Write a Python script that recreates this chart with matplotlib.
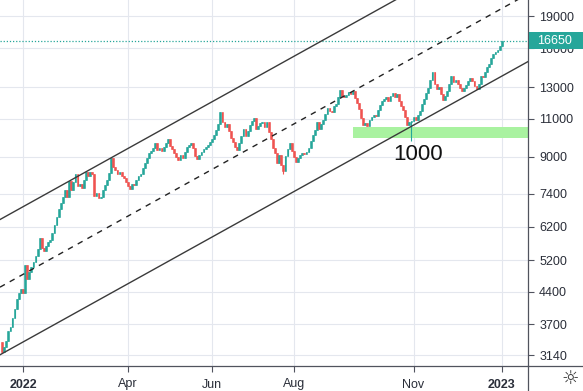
import numpy as np
import matplotlib
matplotlib.use("Agg")
import matplotlib.pyplot as plt
from matplotlib.lines import Line2D
from matplotlib.patches import Rectangle
from matplotlib.ticker import NullLocator, NullFormatter, FixedLocator, FixedFormatter

# ---------------- data ----------------
first_open = 3365
closes = [
    3190, 3280, 3380, 3570, 3645, 3820, 4010, 4230, 4365, 4460,
    4365, 5065, 4700, 4880, 5010, 5145, 5315, 5515, 5845, 5545,
    5455, 5605, 5725, 5785, 6005, 6265, 6535, 6820, 7040, 7270,
    7545, 7270, 7910, 7545, 7870, 8210, 7705, 7785, 7625, 7955,
    8300, 8125, 8300, 8210, 7305, 7425, 7230, 7270, 7545, 7745,
    7955, 8255, 8940, 8520, 8390, 8210, 8300, 8125, 8040, 7870,
    7705, 7585, 7785, 7745, 7955, 8125, 8210, 8480, 8705, 8940,
    9180, 9280, 9430, 9680, 9330, 9430, 9280, 9480, 9680, 9890,
    9530, 9380, 9180, 8990, 8845, 9085, 8940, 9230, 9480, 9580,
    9680, 9430, 9035, 8890, 9085, 9230, 9380, 9480, 9580, 9730,
    9890, 10100, 10370, 10705, 11415, 10825, 10540, 10705, 10320, 9940,
    9730, 9480, 9330, 9680, 10050, 10430, 10050, 10320, 10650, 10880,
    11055, 10430, 10595, 10765, 10825, 10540, 10825, 10265, 9890, 9430,
    9180, 8705, 9085, 8615, 8345, 9035, 9380, 9680, 9280, 8990,
    8750, 8940, 9085, 9180, 9135, 9230, 9430, 9785, 10100, 10370,
    10825, 10430, 10705, 10940, 11290, 11660, 11475, 11415, 11785, 11910,
    12360, 12830, 12425, 12360, 12490, 12690, 12560, 12760, 12295, 11975,
    11595, 11055, 10650, 10765, 10595, 10940, 11115, 11235, 11175, 11535,
    11845, 12100, 12230, 12360, 12100, 12425, 12625, 12360, 12560, 12100,
    11785, 11535, 11115, 10650, 10825, 10880, 11115, 10940, 11235, 11475,
    11910, 12230, 12625, 12965, 13525, 14115, 13240, 12895, 13035, 12560,
    12165, 12425, 12760, 13240, 13815, 13385, 13525, 13240, 12965, 12760,
    12965, 13170, 13455, 13670, 13455, 13105, 12895, 13240, 13815, 13745,
    14115, 14495, 14725, 15200, 15530, 15700, 15865, 16200, 16650,
]
wick_lows = {134: 8230, 195: 9800}

y_ticks = [3140, 3700, 4400, 5200, 6200, 7400, 9000, 11000, 13000, 16000, 19000]
x_tick_bars = [10, 60, 100, 139, 196, 238]
x_tick_labels = ["2022", "Apr", "Jun", "Aug", "Nov", "2023"]

channel_bars = [0, 238]
channel_mid = [4530, 19770]
channel_factor = 1.432

zone_start_bar = 167
zone_low, zone_high = 9950, 10550

note_bar, note_price, note_text = 198, 9130, "1000"
last_price = 16650

# ---------------- style ----------------
UP = "#26a69a"
DOWN = "#ef5350"
TXT = "#2a2e39"
AXC = "#50535e"
GRID = "#e4e7ee"
FONT = "Liberation Sans"

W, H = 583, 391
AX_R, AX_B = 528, 366

fig = plt.figure(figsize=(W / 100, H / 100), dpi=100)
fig.patch.set_facecolor("white")
ax = fig.add_axes([0, (H - AX_B) / H, AX_R / W, AX_B / H])
ax.set_yscale("log")
ax.set_xlim(-0.95, 250.5)
ax.set_ylim(2963, 20686)

n = len(closes)
xs = np.arange(n)
opens = np.array([first_open] + closes[:-1], dtype=float)
cl = np.array(closes, dtype=float)
lo_b = np.minimum(opens, cl)
hi_b = np.maximum(opens, cl)
colors = [UP if c >= o else DOWN for o, c in zip(opens, cl)]

wl = lo_b.copy()
for k, v in wick_lows.items():
    wl[k] = min(wl[k], v)

ax.vlines(xs, wl, hi_b, colors=colors, linewidth=0.8, zorder=3)
ax.bar(xs, hi_b - lo_b, bottom=lo_b, width=0.85, color=colors,
       edgecolor=colors, linewidth=0.4, zorder=3)

# regression channel
xl = np.array(ax.get_xlim())
slope = (np.log(channel_mid[1]) - np.log(channel_mid[0])) / (channel_bars[1] - channel_bars[0])
mid = np.exp(np.log(channel_mid[0]) + slope * (xl - channel_bars[0]))
ax.plot(xl, mid * channel_factor, color="#3a3a3a", lw=1.0, zorder=4)
ax.plot(xl, mid / channel_factor, color="#3a3a3a", lw=1.0, zorder=4)
ax.plot(xl, mid, color="#222222", lw=1.0, dashes=(4, 4), zorder=4)

# zone
ax.fill_between([zone_start_bar, xl[1]], zone_low, zone_high, color="#a9f2a0",
                lw=0, zorder=2)

ax.text(note_bar, note_price, note_text, ha="center", va="center",
        fontsize=16, family=FONT, color="#111111", zorder=5)

ax.axhline(last_price, color=UP, lw=0.9, ls=(0, (1, 1.5)), zorder=2)

# axes styling
ax.yaxis.tick_right()
ax.yaxis.set_major_locator(FixedLocator(y_ticks))
ax.yaxis.set_major_formatter(FixedFormatter([str(v) for v in y_ticks]))
ax.yaxis.set_minor_locator(NullLocator())
ax.yaxis.set_minor_formatter(NullFormatter())
ax.set_xticks(x_tick_bars)
ax.set_xticklabels(x_tick_labels)
for lab in ax.get_xticklabels():
    lab.set_family(FONT)
    lab.set_fontsize(9)
    lab.set_color(TXT)
    if lab.get_text().isdigit():
        lab.set_fontweight("bold")
for lab in ax.get_yticklabels():
    lab.set_family(FONT)
    lab.set_fontsize(9)
    lab.set_color(TXT)
ax.tick_params(axis="x", length=4, width=0.8, color=AXC, pad=5)
ax.tick_params(axis="y", length=4, width=0.8, color=AXC, pad=4)
ax.grid(True, color=GRID, lw=0.8)
ax.set_axisbelow(True)
for s in ["top", "left"]:
    ax.spines[s].set_visible(False)
for s in ["right", "bottom"]:
    ax.spines[s].set_color(AXC)
    ax.spines[s].set_linewidth(0.9)

fig.add_artist(Line2D([AX_R / W, 1], [(H - AX_B) / H] * 2, transform=fig.transFigure,
                      color=AXC, lw=0.9))
fig.add_artist(Line2D([AX_R / W] * 2, [0, (H - AX_B) / H], transform=fig.transFigure,
                      color=AXC, lw=0.9))

# last price label box
fig.canvas.draw()
py = ax.transData.transform((0, last_price))[1]
box_h = 17
fig.add_artist(Rectangle(((AX_R + 1) / W, (py - box_h / 2) / H), (W - AX_R - 1) / W, box_h / H,
                         transform=fig.transFigure, facecolor=UP, edgecolor="none", zorder=10))
fig.text((AX_R + 9) / W, py / H, str(last_price), ha="left", va="center", color="white",
         fontsize=9, family=FONT, zorder=11)

fig.text(570 / W, 1 - 378 / H, "\u263c", ha="center", va="center", fontsize=14,
         color="#333333", family="DejaVu Sans")

fig.savefig("out.png", dpi=100, facecolor="white")
